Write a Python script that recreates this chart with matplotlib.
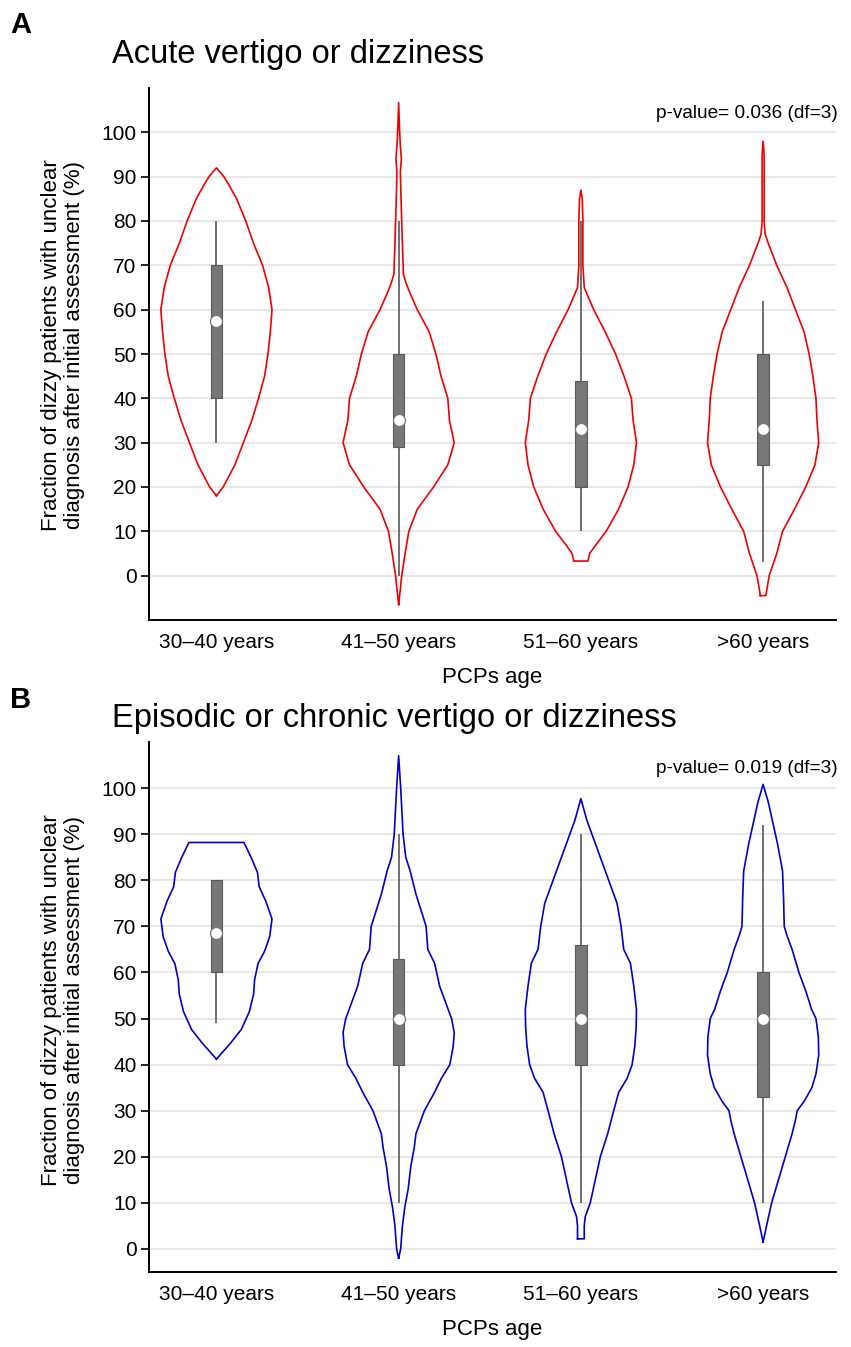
import numpy as np
import matplotlib
matplotlib.use("Agg")
import matplotlib.pyplot as plt

plt.rcParams['font.family'] = ['Liberation Sans', 'DejaVu Sans']

categories = ["30\u201340 years", "41\u201350 years", "51\u201360 years", ">60 years"]

# ---- Panel A: acute vertigo or dizziness ----
# violin outlines: value levels (%) and relative density (half-width)
a1_y = [18, 20, 25, 30, 35, 40, 45, 50, 55, 60, 65, 70, 75, 80, 85, 88, 90, 92]
a1_d = [0, 20, 55, 80, 105, 125, 143, 153, 160, 165, 155, 137, 110, 87, 60, 38, 22, 0]
a2_y = [-6.5, -3, 0, 5, 10, 15, 20, 25, 30, 35, 40, 45, 50, 55, 60, 64, 66, 68, 75, 80, 85, 91, 94, 97, 100, 106.7]
a2_d = [0, 5, 9, 19, 30, 55, 103, 145, 164, 150, 145, 125, 110, 90, 55, 32, 22, 14, 11, 9, 7, 5, 8, 5, 3, 0]
a3_y = [3.3, 5, 7, 10, 15, 20, 25, 30, 35, 40, 45, 50, 55, 60, 63, 65, 70, 80, 85, 87]
a3_d = [21, 26, 45, 75, 112, 140, 157, 165, 155, 150, 128, 103, 72, 38, 21, 10, 6, 6, 4, 0]
a4_y = [-4.5, 0, 5, 10, 15, 20, 25, 30, 35, 40, 45, 50, 55, 60, 65, 70, 75, 77, 80, 85, 95, 98]
a4_d = [8, 18, 40, 57, 92, 125, 152, 163, 158, 155, 146, 135, 120, 95, 70, 40, 15, 6, 3, 3, 3, 0]
a_q1 = [40, 29, 20, 25]
a_q3 = [70, 50, 44, 50]
a_wlo = [30, 0, 10, 3]
a_whi = [80, 80, 80, 62]
a_med = [57.5, 35, 33, 33]

# ---- Panel B: episodic or chronic vertigo or dizziness ----
b1_y = [41.2, 44.5, 47.6, 51.5, 55.3, 58.4, 61.9, 64.6, 67.7, 71.6, 75.5, 78.6, 81.7, 85, 88.2]
b1_d = [0, 40, 73.5, 97.5, 110, 113, 123, 142.5, 157.5, 164.5, 146, 126.5, 121.5, 102.5, 81.5]
b2_y = [-2, 0, 5, 9, 13, 18, 22, 25, 30, 34, 37, 40, 44, 47, 50, 53, 57, 62, 65, 70, 77, 82, 85, 90, 100, 107]
b2_d = [0, 6, 11, 18, 28, 36, 46, 51, 76, 106, 126, 151, 161, 164, 156, 141, 121, 106, 86, 81, 51, 34, 21, 13, 6, 0]
b3_y = [2.2, 5, 7, 10, 15, 20, 25, 30, 34, 37, 40, 44, 48, 52, 57, 62, 65, 70, 75, 80, 85, 90, 93, 97.7]
b3_d = [10, 10, 13, 28, 43, 58, 80, 98, 113, 138, 153, 161, 165, 166, 158, 148, 128, 120, 108, 83, 58, 33, 18, 0]
b4_y = [1.5, 5, 10, 15, 20, 25, 28, 30, 32, 35, 38, 42, 46, 50, 52, 56, 60, 65, 68, 70, 76, 82, 88, 92, 97, 100.8]
b4_d = [0, 10, 25, 45, 65, 85, 95, 100, 120, 143, 155, 163, 162, 155, 142, 125, 105, 85, 70, 62, 60, 57, 42, 30, 15, 0]
b_q1 = [60, 40, 40, 33]
b_q3 = [80, 63, 66, 60]
b_wlo = [49, 10, 10, 10]
b_whi = [80, 90, 90, 92]
b_med = [68.5, 50, 50, 50]

titles = ["Acute vertigo or dizziness", "Episodic or chronic vertigo or dizziness"]
pvals = ["p-value= 0.036 (df=3)", "p-value= 0.019 (df=3)"]
ylabel = "Fraction of dizzy patients with unclear\ndiagnosis after initial assessment (%)"
xlabel = "PCPs age"
yticks = list(range(0, 101, 10))

W, H = 851, 1347
fig = plt.figure(figsize=(W / 100, H / 100), dpi=100)


def px_axes(left, top, right, bottom):
    return fig.add_axes([left / W, 1 - bottom / H, (right - left) / W, (bottom - top) / H])


axA = px_axes(149, 88, 836, 620)
axB = px_axes(149, 742, 836, 1272)

panels = [
    (axA, [(a1_y, a1_d), (a2_y, a2_d), (a3_y, a3_d), (a4_y, a4_d)],
     a_q1, a_q3, a_wlo, a_whi, a_med, '#f00000', (-10, 110)),
    (axB, [(b1_y, b1_d), (b2_y, b2_d), (b3_y, b3_d), (b4_y, b4_d)],
     b_q1, b_q3, b_wlo, b_whi, b_med, '#0000d0', (-5, 110)),
]

maxw = 0.305
for i, (ax, vio, q1, q3, wlo, whi, med, col, ylim) in enumerate(panels):
    pos = np.arange(len(categories))
    for p, (yy, dd) in zip(pos, vio):
        yy = np.asarray(yy, float)
        dd = np.asarray(dd, float)
        hw = dd / dd.max() * maxw
        xs = np.concatenate([p - hw, (p + hw)[::-1], [p - hw[0]]])
        ys = np.concatenate([yy, yy[::-1], [yy[0]]])
        ax.plot(xs, ys, color=col, lw=1.2, zorder=3, solid_joinstyle='round')
    ax.vlines(pos, wlo, whi, color='#666666', lw=1.3, zorder=4)
    ax.bar(pos, np.array(q3) - np.array(q1), bottom=q1, width=0.063,
           color='#777777', edgecolor='#5a5a5a', linewidth=0.8, zorder=5)
    ax.scatter(pos, med, s=75, facecolor='white', edgecolor='#777777',
               linewidth=0.9, zorder=6)

    ax.set_xlim(-0.37, 3.40)
    ax.set_ylim(*ylim)
    ax.set_yticks(yticks)
    ax.set_xticks(pos)
    ax.set_xticklabels(categories)
    ax.grid(axis='y', color='#e4e4e4', lw=1.2, zorder=0)
    ax.set_axisbelow(True)
    for s in ['top', 'right']:
        ax.spines[s].set_visible(False)
    for s in ['left', 'bottom']:
        ax.spines[s].set_linewidth(1.4)
    ax.tick_params(axis='y', labelsize=15, length=6, width=1.2, pad=3)
    ax.tick_params(axis='x', labelsize=15, length=0, pad=9)
    ax.set_xlabel(xlabel, fontsize=16, labelpad=11)
    ax.text(1.003, 103.2, pvals[i], transform=ax.get_yaxis_transform(),
            ha='right', va='baseline', fontsize=13.7)

# titles, panel letters and y labels in pixel positions
fig.text(112 / W, 1 - 63 / H, titles[0], fontsize=23.5, ha='left', va='baseline')
fig.text(112 / W, 1 - 727 / H, titles[1], fontsize=23.5, ha='left', va='baseline')
fig.text(10 / W, 1 - 33 / H, "A", fontsize=21, fontweight='bold', ha='left', va='baseline')
fig.text(10 / W, 1 - 708 / H, "B", fontsize=21, fontweight='bold', ha='left', va='baseline')
fig.text(63 / W, 1 - 345 / H, ylabel, fontsize=16, rotation=90, ha='center', va='center',
         multialignment='center', linespacing=1.1)
fig.text(63 / W, 1 - 1000 / H, ylabel, fontsize=16, rotation=90, ha='center', va='center',
         multialignment='center', linespacing=1.1)

fig.savefig("out.png", dpi=100)
